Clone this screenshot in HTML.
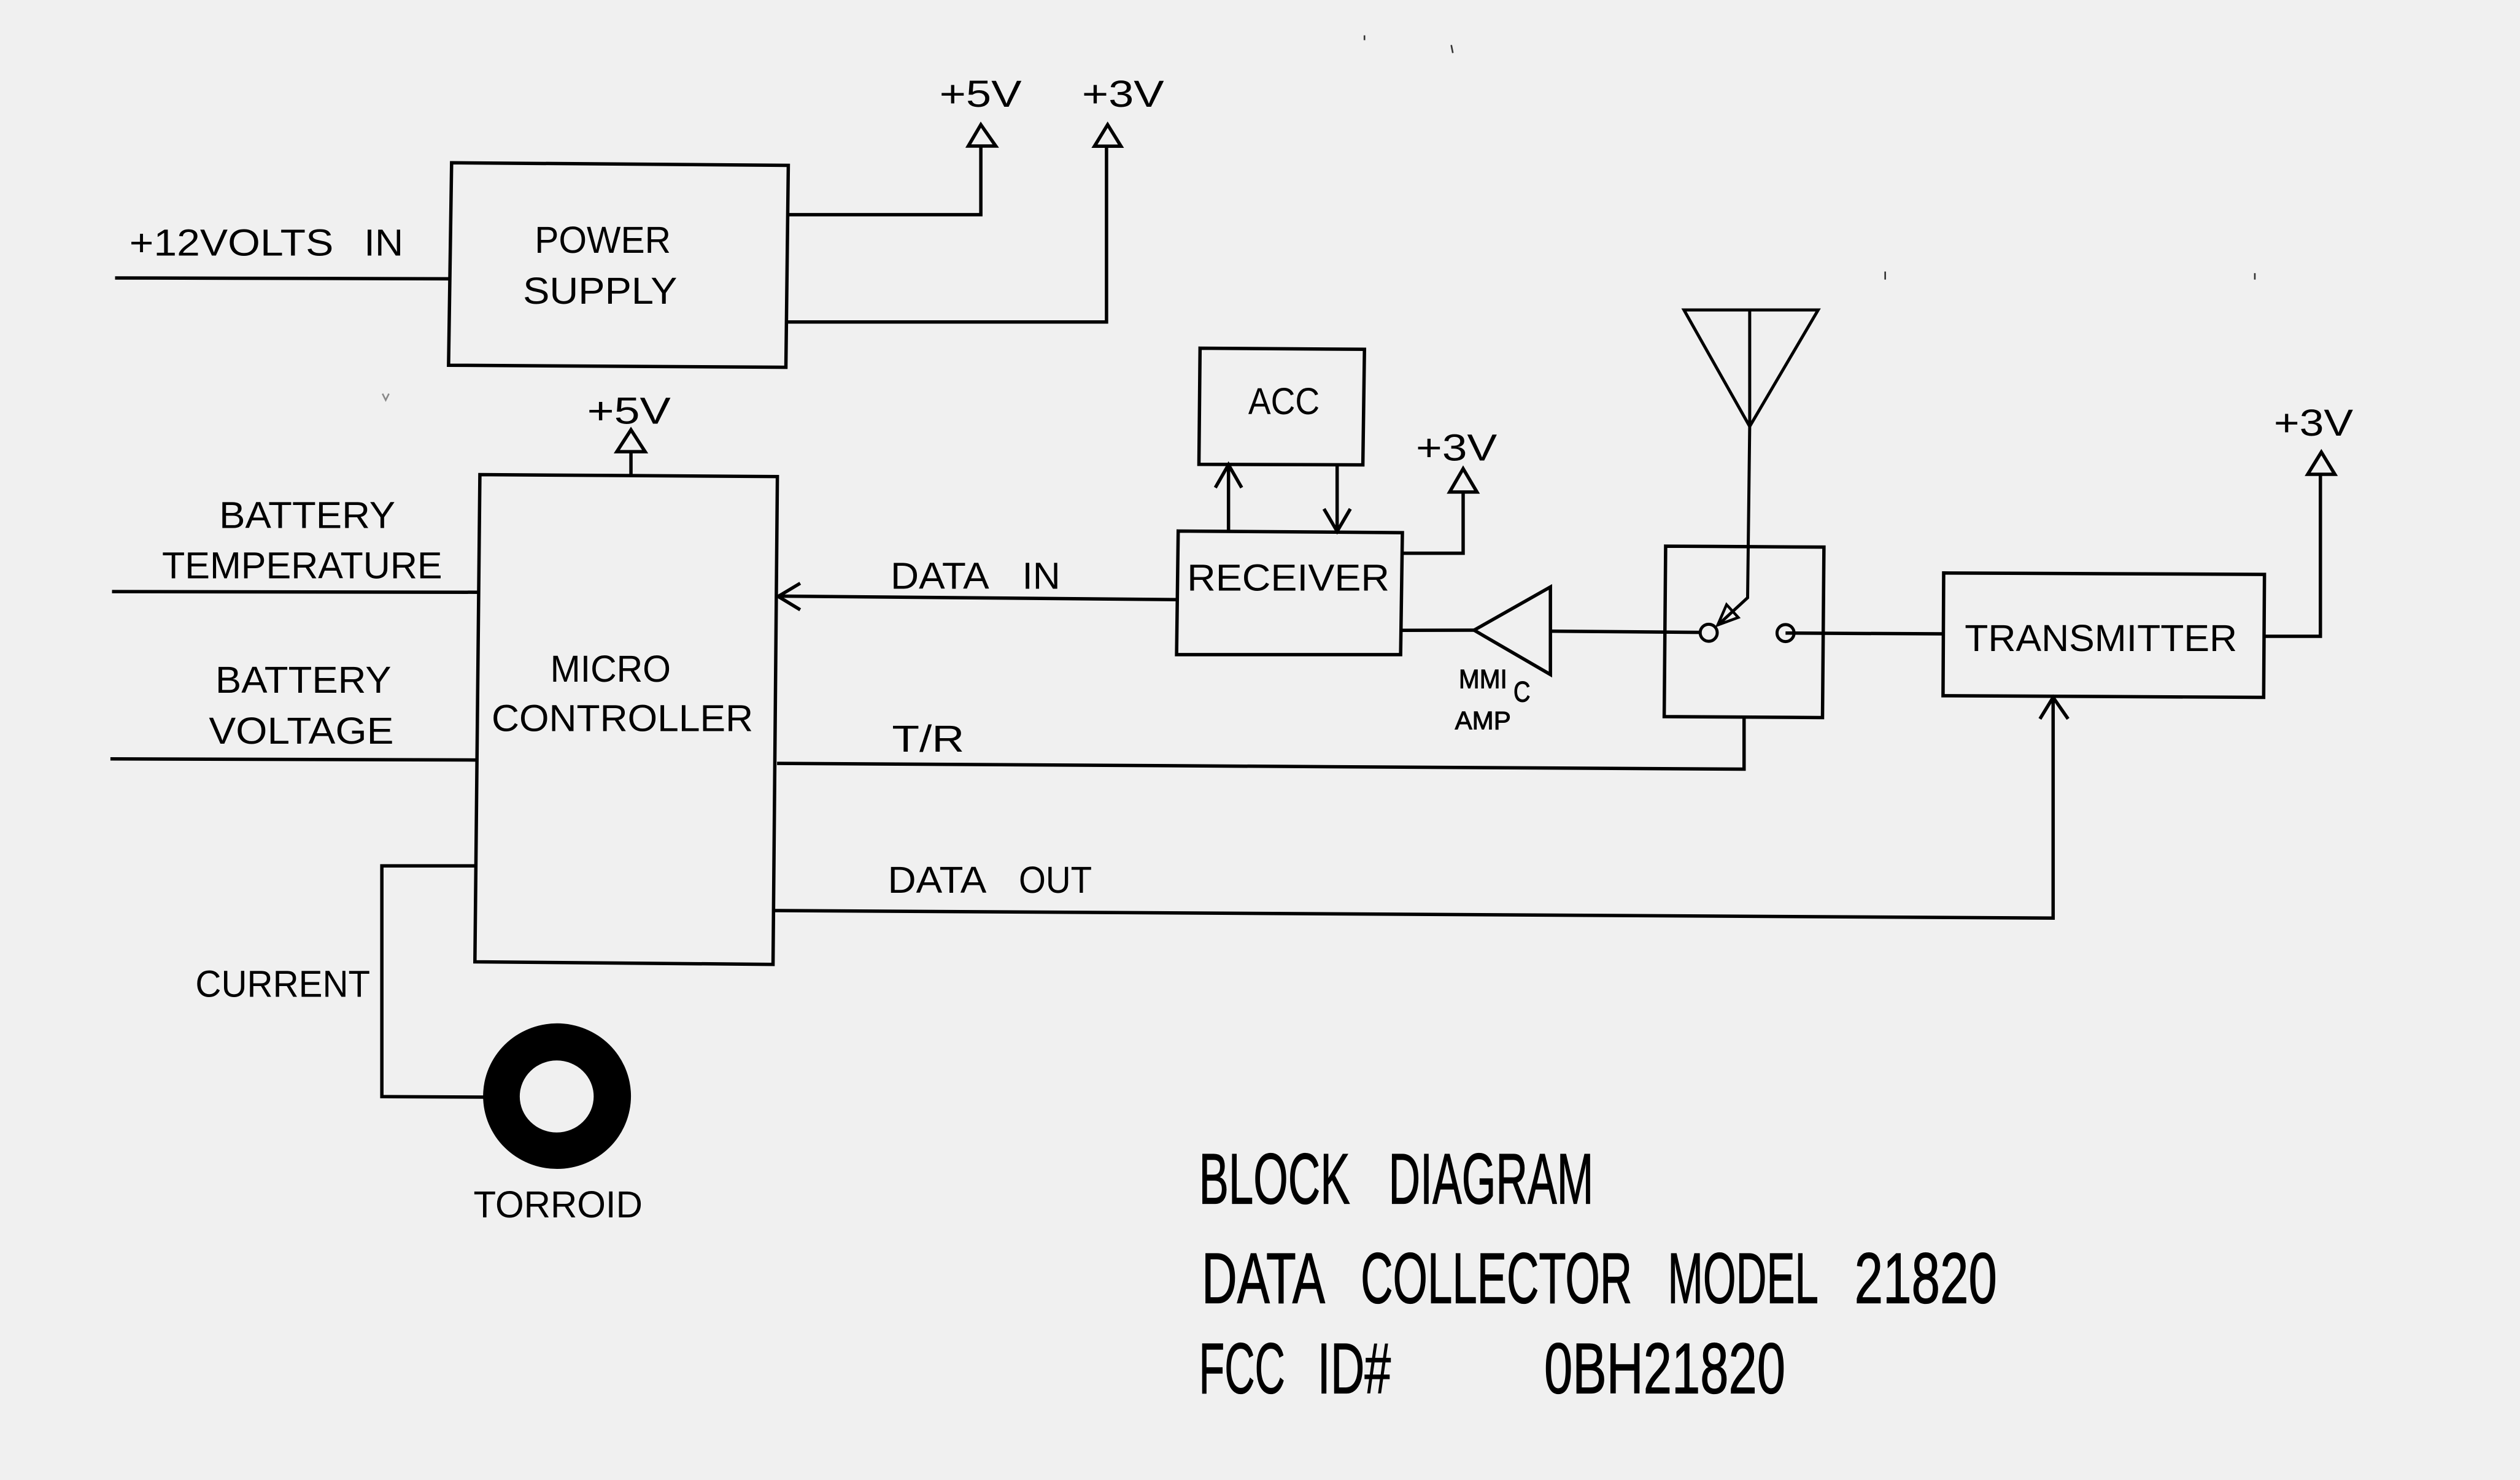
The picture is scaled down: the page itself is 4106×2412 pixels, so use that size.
<!DOCTYPE html>
<html><head><meta charset="utf-8"><style>
html,body{margin:0;padding:0;background:#f0f0f0;}
svg{display:block;}
text{font-family:"Liberation Sans",sans-serif;fill:#000;}
</style></head><body>
<svg width="4106" height="2412" viewBox="0 0 1568 921.1" preserveAspectRatio="none" xmlns="http://www.w3.org/2000/svg">
<rect x="0" y="0" width="1568" height="921.1" fill="#f0f0f0"/>
<g fill="none" stroke="#000" stroke-width="2.1" stroke-linejoin="miter">
<!-- Power supply -->
<polygon points="281,101.3 490.5,102.9 489,228.6 279.1,227.3"/>
<polyline points="71.6,173 280,173.5"/>
<polyline points="490.5,133.6 610.3,133.6 610.3,90.9"/>
<polyline points="489.5,200.4 688.5,200.4 688.5,91"/>
<polygon points="610.3,77.6 602.5,90.9 619.6,90.9" fill="#f0f0f0"/>
<polygon points="689.2,77.6 681,91 697.5,91" fill="#f0f0f0"/>
<!-- Micro controller -->
<polygon points="298.6,295.4 483.7,296.6 481,600.2 295.5,598.6"/>
<polyline points="392.6,295.4 392.6,281.1"/>
<polygon points="392.6,267.5 383.8,281.1 401.4,281.1" fill="#f0f0f0"/>
<polyline points="69.7,368.2 298,368.6"/>
<polyline points="68.7,472.3 296.5,473"/>
<polyline points="297,538.9 237.6,538.9 237.6,682.5 301,682.8"/>
<!-- data in -->
<polyline points="732.3,373.2 484.2,371"/>
<polyline points="497.9,363 484.2,371.2 497.9,379.5"/>
<!-- T/R -->
<polyline points="483.5,475.1 1085.2,478.7 1085.2,446.3"/>
<!-- data out -->
<polyline points="481.5,566.7 1277.5,571.4 1277.5,434"/>
<polyline points="1269.3,447.4 1277.5,434 1286.8,447.4"/>
<!-- ACC / receiver -->
<polygon points="746.7,216.7 849,217.4 848,289.3 746,289"/>
<polygon points="733.1,330.5 872.6,331.5 871.5,407.4 732.1,407.4"/>
<polyline points="764.4,330.5 764.4,289.2"/>
<polyline points="756.2,303.5 764.4,289.2 772.6,303.5"/>
<polyline points="832,289.3 832,330.7"/>
<polyline points="823.8,316.7 832,330.7 840.2,316.7"/>
<polyline points="872.4,344.3 910.4,344.3 910.4,306.2"/>
<polygon points="910.4,291.7 902,306.2 919,306.2" fill="#f0f0f0"/>
<!-- amp -->
<polyline points="872,392.3 917.2,392.2"/>
<polygon points="917.2,392.2 964.7,365.3 964.7,419.8"/>
<polyline points="964.7,392.8 1057.8,393.6"/>
<!-- switch -->
<polygon points="1036.4,339.9 1134.9,340.5 1134,446.6 1035.5,446"/>
<circle cx="1063.2" cy="393.8" r="5.3" stroke-width="1.9"/>
<circle cx="1111" cy="394" r="5.3" stroke-width="1.9"/>
<polyline points="1111,394 1209.4,394.5"/>
<!-- antenna -->
<polygon points="1047.8,192.9 1131.3,192.9 1088.7,265.4" stroke-width="1.9"/>
<polyline points="1088.7,192.9 1088.7,265.4 1087.4,372 1070,388" stroke-width="1.9"/>
<polygon points="1068.8,389 1074.3,376.3 1081.6,384.3" stroke-width="1.7"/>
<!-- transmitter -->
<polygon points="1209.4,356.6 1409,357.5 1408.5,434 1209,433"/>
<polyline points="1409,396 1443.8,396 1443.8,295.2"/>
<polygon points="1444.4,281.4 1435.9,295.2 1452.8,295.2" fill="#f0f0f0"/>
</g>
<!-- torroid -->
<path fill="#000" fill-rule="evenodd" d="M300.6,682.2 a46,45.3 0 1,0 92,0 a46,45.3 0 1,0 -92,0 Z M323.4,682.4 a23,22.4 0 1,0 46,0 a23,22.4 0 1,0 -46,0 Z"/>
<!-- stray specks -->
<g stroke="#333" stroke-width="1" fill="none">
<line x1="903" y1="28" x2="904" y2="33"/>
<line x1="849" y1="22" x2="849" y2="25"/>
<line x1="1173" y1="169" x2="1173" y2="174"/>
<line x1="1403" y1="170" x2="1403" y2="174"/>
<path d="M238,245 l2,4 l2,-4" stroke="#888"/>
</g>
<!-- labels -->
<g font-size="23.4">
<text x="80.5" y="159" textLength="127" lengthAdjust="spacingAndGlyphs">+12VOLTS</text>
<text x="226.5" y="159" textLength="24.5" lengthAdjust="spacingAndGlyphs">IN</text>
<text x="332.7" y="157.3" textLength="84.7" lengthAdjust="spacingAndGlyphs">POWER</text>
<text x="325.4" y="189" textLength="96" lengthAdjust="spacingAndGlyphs">SUPPLY</text>
<text x="584.5" y="66.5" textLength="51.2" lengthAdjust="spacingAndGlyphs">+5V</text>
<text x="673.2" y="66.5" textLength="51.1" lengthAdjust="spacingAndGlyphs">+3V</text>
<text x="365.3" y="263.7" textLength="52" lengthAdjust="spacingAndGlyphs">+5V</text>
<text x="136.4" y="328.6" textLength="109.6" lengthAdjust="spacingAndGlyphs">BATTERY</text>
<text x="100.8" y="360" textLength="174.4" lengthAdjust="spacingAndGlyphs">TEMPERATURE</text>
<text x="134" y="431.2" textLength="109.5" lengthAdjust="spacingAndGlyphs">BATTERY</text>
<text x="130" y="462.8" textLength="115" lengthAdjust="spacingAndGlyphs">VOLTAGE</text>
<text x="342.4" y="424.2" textLength="75" lengthAdjust="spacingAndGlyphs">MICRO</text>
<text x="305.9" y="455" textLength="162.7" lengthAdjust="spacingAndGlyphs">CONTROLLER</text>
<text x="121.6" y="620.3" textLength="108.7" lengthAdjust="spacingAndGlyphs">CURRENT</text>
<text x="294.6" y="757.7" textLength="105.2" lengthAdjust="spacingAndGlyphs">TORROID</text>
<text x="554.1" y="366.4" textLength="61.4" lengthAdjust="spacingAndGlyphs">DATA</text>
<text x="636" y="366.4" textLength="23.8" lengthAdjust="spacingAndGlyphs">IN</text>
<text x="555" y="467.8" textLength="45" lengthAdjust="spacingAndGlyphs">T/R</text>
<text x="552.4" y="555.6" textLength="61.4" lengthAdjust="spacingAndGlyphs">DATA</text>
<text x="633.9" y="555.6" textLength="45.5" lengthAdjust="spacingAndGlyphs">OUT</text>
<text x="776.7" y="257.8" textLength="44.4" lengthAdjust="spacingAndGlyphs">ACC</text>
<text x="738.6" y="367.6" textLength="126" lengthAdjust="spacingAndGlyphs">RECEIVER</text>
<text x="881" y="286.7" textLength="50.5" lengthAdjust="spacingAndGlyphs">+3V</text>
<text x="1222.5" y="405.1" textLength="169.5" lengthAdjust="spacingAndGlyphs">TRANSMITTER</text>
<text x="1414.8" y="271.2" textLength="49.4" lengthAdjust="spacingAndGlyphs">+3V</text>
</g>
<g stroke="#000" stroke-width="0.4">
<text x="907.7" y="428.3" font-size="16.6" textLength="30.1" lengthAdjust="spacingAndGlyphs">MMI</text>
<text x="941.7" y="436.6" font-size="18.2" textLength="10.5" lengthAdjust="spacingAndGlyphs">C</text>
<text x="905.3" y="453.8" font-size="16" textLength="34.8" lengthAdjust="spacingAndGlyphs">AMP</text>
</g>
<!-- title -->
<g font-size="44.5" stroke="#000" stroke-width="0.5">
<text x="746" y="749" textLength="94" lengthAdjust="spacingAndGlyphs">BLOCK</text>
<text x="864" y="749" textLength="127.5" lengthAdjust="spacingAndGlyphs">DIAGRAM</text>
<text x="747.7" y="811" textLength="76.8" lengthAdjust="spacingAndGlyphs">DATA</text>
<text x="846.7" y="811" textLength="168.8" lengthAdjust="spacingAndGlyphs">COLLECTOR</text>
<text x="1037.7" y="811" textLength="93.8" lengthAdjust="spacingAndGlyphs">MODEL</text>
<text x="1153.9" y="811" textLength="88.7" lengthAdjust="spacingAndGlyphs">21820</text>
<text x="746" y="867" textLength="53.6" lengthAdjust="spacingAndGlyphs">FCC</text>
<text x="819.7" y="867" textLength="45.7" lengthAdjust="spacingAndGlyphs">ID#</text>
<text x="960.8" y="867" textLength="150.1" lengthAdjust="spacingAndGlyphs">0BH21820</text>
</g>
</svg>
</body></html>
